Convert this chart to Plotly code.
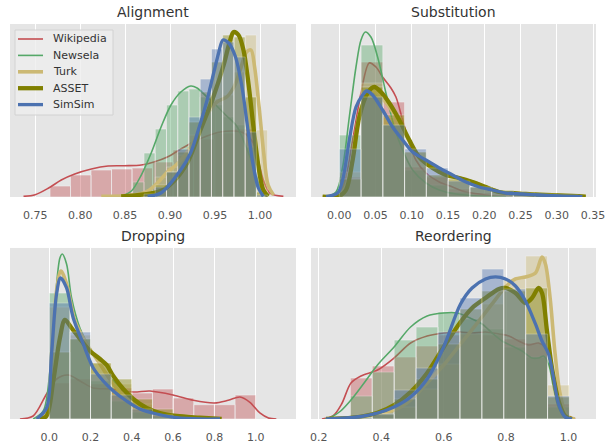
import plotly.graph_objects as go

SERIES = ["Wikipedia", "Newsela", "Turk", "ASSET", "SimSim"]
TITLES = ["Alignment", "Substitution", "Dropping", "Reordering"]

# ---------------- Alignment ----------------
align_ticks = [0.75, 0.80, 0.85, 0.90, 0.95, 1.00]
align_wiki_bin_start, align_wiki_bin_width = 0.7665, 0.0228
align_bin_start, align_bin_width = 0.8585, 0.0125
align_wiki_hist = [11, 22, 27, 28, 29, 35, 47, 58, 64, 68]
align_news_hist = [15, 44, 68, 92, 106, 108, 100, 92, 80, 72, 50, 0]
align_turk_hist = [1, 6, 20, 30, 42, 62, 85, 98, 102, 125, 162, 67]
align_asset_hist = [0, 4, 12, 25, 45, 75, 105, 135, 162, 160, 100, 5]
align_sim_hist = [0, 3, 10, 25, 48, 80, 118, 148, 155, 140, 65, 2]

align_wiki_kx = [0.737, 0.750, 0.765, 0.779, 0.794, 0.8125, 0.831, 0.849, 0.868, 0.882, 0.897,
                 0.912, 0.926, 0.941, 0.956, 0.971, 0.982, 0.9926, 0.998, 1.0037, 1.011, 1.026]
align_wiki_ky = [0.7, 2.3, 9, 17, 23, 28, 31, 31.3, 32, 35, 40, 48, 55, 61, 65, 66, 64, 54, 37, 17, 4, 0.7]
align_news_kx = [0.8456, 0.857, 0.868, 0.879, 0.890, 0.901, 0.912, 0.923, 0.930, 0.941, 0.952,
                 0.963, 0.974, 0.985, 0.993, 1.000, 1.007]
align_news_ky = [0.7, 6, 22, 44, 70, 92, 105, 111, 109, 100, 91, 81, 71, 49, 30, 10, 1]
align_turk_kx = [0.8235, 0.860, 0.875, 0.886, 0.897, 0.908, 0.919, 0.930, 0.941, 0.952, 0.963,
                 0.971, 0.978, 0.985, 0.990, 0.994, 0.999, 1.004, 1.009, 1.015]
align_turk_ky = [0.7, 2, 6, 14, 25, 33, 45, 62, 82, 95, 100, 110, 127, 145, 147, 130, 90, 45, 12, 2]
align_asset_kx = [0.8456, 0.8897, 0.9044, 0.9191, 0.9338, 0.9485, 0.9596, 0.9669, 0.9706, 0.9761,
                  0.9816, 0.9871, 0.9926, 0.9982, 1.0037, 1.0092]
align_asset_ky = [0.7, 6, 16, 34, 67, 101, 132, 157, 165, 162, 147, 114, 71, 31, 7, 0.7]
align_sim_kx = [0.875, 0.8897, 0.9118, 0.9228, 0.9338, 0.9412, 0.9485, 0.954, 0.9588, 0.9651,
                0.9724, 0.9798, 0.9871, 0.9926, 0.9982, 1.0037]
align_sim_ky = [0.7, 4, 27, 44, 74, 97, 124, 144, 157, 154, 141, 111, 64, 31, 9, 0.7]

# ---------------- Substitution ----------------
subs_ticks = [0.00, 0.05, 0.10, 0.15, 0.20, 0.25, 0.30, 0.35]
subs_bin_start, subs_bin_width = 0.0, 0.03
subs_wiki_hist = [20, 135, 95, 30, 20, 8, 4, 2, 1, 0, 0]
subs_news_hist = [62, 152, 72, 27, 12, 5, 2, 1, 0.5, 0, 0]
subs_turk_hist = [25, 114, 80, 45, 22, 18, 10, 6, 4, 2, 1]
subs_asset_hist = [18, 110, 82, 45, 22, 18, 10, 6, 4, 2, 1]
subs_sim_hist = [48, 100, 72, 48, 29, 16, 10, 6, 4, 3, 2]

subs_wiki_kx = [-0.0092, 0.0046, 0.0184, 0.0299, 0.0413, 0.0505, 0.0597, 0.0712, 0.0781, 0.0873,
                0.0965, 0.1056, 0.1194, 0.1378, 0.1562, 0.1746, 0.1929, 0.2113, 0.2297]
subs_wiki_ky = [0.3, 10, 57, 104, 134, 130, 120, 109, 100, 77, 54, 37, 24, 15, 10, 5, 3, 1, 0.3]
subs_news_kx = [-0.0184, -0.0046, 0.0046, 0.0138, 0.0230, 0.0299, 0.0358, 0.0436, 0.0528, 0.0643,
                0.0758, 0.0873, 0.1011, 0.1194, 0.1378, 0.1608, 0.1929, 0.2297]
subs_news_ky = [0.3, 5, 30, 80, 130, 157, 165, 160, 140, 104, 70, 47, 27, 14, 7, 3, 1, 0.3]
subs_turk_kx = [-0.0230, 0.0, 0.0092, 0.0184, 0.0276, 0.0390, 0.0482, 0.0574, 0.0689, 0.0827, 0.0965,
                0.1102, 0.1286, 0.1470, 0.1654, 0.1837, 0.2021, 0.2205, 0.2389, 0.2572, 0.2848, 0.3215, 0.3399]
subs_turk_ky = [0.3, 1, 8, 40, 82, 103, 106, 100, 90, 75, 56, 40, 30, 23, 19, 15, 10, 5, 4, 3, 2, 1, 0.3]
subs_asset_kx = [-0.0230, 0.0, 0.0092, 0.0184, 0.0276, 0.0390, 0.0482, 0.0574, 0.0689, 0.0827, 0.0965,
                 0.1102, 0.1286, 0.1470, 0.1654, 0.1837, 0.2021, 0.2205, 0.2389, 0.2572, 0.2848, 0.3215, 0.3399]
subs_asset_ky = [0.3, 1, 7, 37, 80, 104, 110, 105, 94, 77, 57, 40, 29, 22, 19, 15, 10, 5, 4, 3, 2, 1, 0.3]
subs_sim_kx = [-0.0184, -0.0023, 0.0046, 0.0138, 0.0230, 0.0322, 0.0377, 0.0459, 0.0597, 0.0735, 0.0873,
               0.1011, 0.1194, 0.1378, 0.1562, 0.1746, 0.1929, 0.2113, 0.2297, 0.2526, 0.2756, 0.3032, 0.3353]
subs_sim_ky = [0.3, 4, 17, 57, 90, 102, 106, 102, 87, 70, 57, 45, 37, 29, 22, 15, 10, 7, 4, 3, 2, 1, 0.3]

# ---------------- Dropping ----------------
drop_ticks = [0.0, 0.2, 0.4, 0.6, 0.8, 1.0]
drop_bin_start, drop_bin_width = 0.0, 0.1
drop_wiki_hist = [36, 40, 35, 31, 26, 30, 21, 14.3, 14.3, 24]
drop_news_hist = [126, 80, 38, 18, 7, 2, 0.5, 0, 0, 0]
drop_turk_hist = [112, 84, 56, 35, 15, 6, 2, 0.5, 0, 0]
drop_asset_hist = [67, 80, 56, 40, 20, 10, 4, 1, 0, 0]
drop_sim_hist = [116, 87, 45, 24, 10, 4, 1, 0, 0, 0]

drop_wiki_kx = [-0.142, -0.078, -0.013, 0.036, 0.092, 0.149, 0.213, 0.294, 0.407, 0.488, 0.60,
                0.698, 0.80, 0.867, 0.924, 0.972, 1.02, 1.062, 1.10]
drop_wiki_ky = [0, 3, 25, 40, 44, 38, 31, 30, 27, 28, 24, 18.7, 16, 18.7, 22, 16.7, 6, 1, 0]
drop_news_kx = [-0.0775, -0.0291, 0.0032, 0.0275, 0.0517, 0.0630, 0.0840, 0.1082, 0.1486, 0.1971,
                0.2456, 0.3102, 0.3748, 0.4394, 0.5040, 0.5687, 0.6656]
drop_news_ky = [0, 8, 48, 115, 161, 165, 155, 121, 91, 71, 55, 38, 25, 15, 8, 3, 0]
drop_turk_kx = [-0.0614, -0.0129, 0.0113, 0.0355, 0.0565, 0.0840, 0.1244, 0.1809, 0.2456, 0.3102,
                0.3748, 0.4394, 0.5202, 0.6010, 0.7302]
drop_turk_ky = [0, 9, 62, 128, 148, 135, 98, 75, 55, 35, 21, 13, 6, 2, 0]
drop_asset_kx = [-0.0452, -0.0129, 0.0194, 0.0517, 0.0759, 0.1082, 0.1567, 0.1971, 0.2456, 0.2779,
                 0.3102, 0.3586, 0.4071, 0.4717, 0.5363, 0.6171, 0.7302, 0.8352]
drop_asset_ky = [0, 3, 38, 81, 99, 91, 78, 68, 60, 54, 43, 30, 20, 11, 6, 3, 1.3, 0]
drop_sim_kx = [-0.0614, -0.0129, 0.0113, 0.0355, 0.0549, 0.0840, 0.1163, 0.1648, 0.2132, 0.2617,
               0.3102, 0.3748, 0.4394, 0.5202, 0.6171, 0.7302, 0.8271]
drop_sim_ky = [0, 11, 65, 125, 141, 131, 101, 75, 51, 38, 28, 18, 10, 5, 1.3, 0, 0]

# ---------------- Reordering ----------------
reord_ticks = [0.2, 0.4, 0.6, 0.8, 1.0]
reord_bin_start, reord_bin_width = 0.301, 0.0702
reord_wiki_hist = [41, 53, 62, 73, 84, 86, 84, 80, 76, 15]
reord_news_hist = [23, 47, 79, 92, 107, 100, 90, 72, 62, 12]
reord_turk_hist = [1, 4, 12, 30, 55, 85, 115, 140, 163, 34]
reord_asset_hist = [1, 5, 20, 40, 75, 110, 128, 128, 131, 22]
reord_sim_hist = [1, 5, 29, 51, 87, 121, 150, 130, 85, 23]

reord_wiki_kx = [0.21, 0.245, 0.273, 0.303, 0.335, 0.388, 0.441, 0.494, 0.547, 0.60, 0.654, 0.691,
                 0.734, 0.777, 0.809, 0.840, 0.872, 0.904, 0.926, 0.947, 0.968, 0.989, 1.021]
reord_wiki_ky = [0, 3, 15, 36, 43, 49, 61, 76, 83, 86, 87, 86, 87, 85, 83, 78, 74, 76, 71, 51, 25, 6, 0]
reord_news_kx = [0.22, 0.24, 0.27, 0.303, 0.345, 0.388, 0.441, 0.494, 0.547, 0.60, 0.643, 0.691,
                 0.723, 0.755, 0.787, 0.819, 0.851, 0.883, 0.904, 0.92, 0.936, 0.952, 0.968, 0.989, 1.011]
reord_news_ky = [0, 2, 8, 19, 36, 54, 72, 92, 103, 106, 106, 100, 95, 86, 78, 73, 68, 61, 61, 63, 55,
                 31, 11, 1.3, 0]
reord_turk_kx = [0.223, 0.319, 0.383, 0.441, 0.494, 0.547, 0.60, 0.654, 0.713, 0.755, 0.798, 0.830,
                 0.862, 0.894, 0.915, 0.926, 0.941, 0.957, 0.973, 0.995, 1.021]
reord_turk_ky = [0, 1.3, 5, 9, 19, 36, 54, 75, 98, 115, 132, 140, 142, 146, 162, 155, 121, 65, 25, 3, 0]
reord_asset_kx = [0.223, 0.309, 0.388, 0.441, 0.494, 0.547, 0.60, 0.654, 0.691, 0.734, 0.777, 0.798,
                  0.830, 0.862, 0.883, 0.904, 0.915, 0.931, 0.947, 0.968, 0.989, 1.011]
reord_asset_ky = [0, 1.3, 6.3, 14, 27, 46, 72, 97, 111, 121, 130, 131, 126, 116, 121, 131, 126, 88,
                  51, 18, 3, 0]
reord_sim_kx = [0.2234, 0.298, 0.335, 0.388, 0.441, 0.494, 0.547, 0.60, 0.654, 0.691, 0.734, 0.766,
                0.798, 0.830, 0.862, 0.894, 0.915, 0.936, 0.952, 0.968, 0.989, 1.011]
reord_sim_ky = [0, 1.3, 2.5, 6, 12, 22, 40, 72, 115, 131, 140, 142, 140, 133, 118, 95, 78, 65, 41,
                15, 2, 0]

# ---------------- assemble ----------------
COLORS = {"Wikipedia": "#C44E52", "Newsela": "#55A868", "Turk": "#CCB974",
          "ASSET": "#808000", "SimSim": "#4C72B0"}
LW = {"Wikipedia": 1.6, "Newsela": 1.6, "Turk": 3.6, "ASSET": 4.3, "SimSim": 3.3}

panels = [
    {
        "ticks": align_ticks, "fmt": ".2f", "range": [0.722, 1.040], "ymax": 173,
        "bins": {"Wikipedia": (align_wiki_bin_start, align_wiki_bin_width),
                 "Newsela": (align_bin_start, align_bin_width),
                 "Turk": (align_bin_start, align_bin_width),
                 "ASSET": (align_bin_start, align_bin_width),
                 "SimSim": (align_bin_start, align_bin_width)},
        "hist": [align_wiki_hist, align_news_hist, align_turk_hist, align_asset_hist, align_sim_hist],
        "kde": [(align_wiki_kx, align_wiki_ky), (align_news_kx, align_news_ky),
                (align_turk_kx, align_turk_ky), (align_asset_kx, align_asset_ky),
                (align_sim_kx, align_sim_ky)],
    },
    {
        "ticks": subs_ticks, "fmt": ".2f", "range": [-0.039, 0.354], "ymax": 173,
        "bins": {s: (subs_bin_start, subs_bin_width) for s in SERIES},
        "hist": [subs_wiki_hist, subs_news_hist, subs_turk_hist, subs_asset_hist, subs_sim_hist],
        "kde": [(subs_wiki_kx, subs_wiki_ky), (subs_news_kx, subs_news_ky),
                (subs_turk_kx, subs_turk_ky), (subs_asset_kx, subs_asset_ky),
                (subs_sim_kx, subs_sim_ky)],
    },
    {
        "ticks": drop_ticks, "fmt": ".1f", "range": [-0.19, 1.195], "ymax": 171,
        "bins": {s: (drop_bin_start, drop_bin_width) for s in SERIES},
        "hist": [drop_wiki_hist, drop_news_hist, drop_turk_hist, drop_asset_hist, drop_sim_hist],
        "kde": [(drop_wiki_kx, drop_wiki_ky), (drop_news_kx, drop_news_ky),
                (drop_turk_kx, drop_turk_ky), (drop_asset_kx, drop_asset_ky),
                (drop_sim_kx, drop_sim_ky)],
    },
    {
        "ticks": reord_ticks, "fmt": ".1f", "range": [0.175, 1.088], "ymax": 171,
        "bins": {s: (reord_bin_start, reord_bin_width) for s in SERIES},
        "hist": [reord_wiki_hist, reord_news_hist, reord_turk_hist, reord_asset_hist, reord_sim_hist],
        "kde": [(reord_wiki_kx, reord_wiki_ky), (reord_news_kx, reord_news_ky),
                (reord_turk_kx, reord_turk_ky), (reord_asset_kx, reord_asset_ky),
                (reord_sim_kx, reord_sim_ky)],
    },
]


def hist_path(start, width, heights):
    xs, ys = [], []
    for i, h in enumerate(heights):
        if h <= 0:
            continue
        x0 = start + i * width
        x1 = x0 + width
        xs += [x0, x0, x1, x1, x0, None]
        ys += [0, h, h, 0, 0, None]
    return xs, ys


fig = go.Figure()
FONT = "DejaVu Sans"

x_domains = [[0.0, 0.488], [0.5137, 1.0], [0.0, 0.488], [0.5137, 1.0]]
y_domains = [[0.562, 1.0], [0.562, 1.0], [0.0, 0.433], [0.0, 0.433]]

for p, panel in enumerate(panels):
    ax = "" if p == 0 else str(p + 1)
    xref, yref = "x" + ax, "y" + ax
    for s, name in enumerate(SERIES):
        start, width = panel["bins"][name]
        hx, hy = hist_path(start, width, panel["hist"][s])
        fig.add_trace(go.Scatter(
            x=hx, y=hy, mode="lines", fill="toself", fillcolor=COLORS[name],
            line=dict(color="white", width=0.6), opacity=0.4,
            xaxis=xref, yaxis=yref, showlegend=False, hoverinfo="skip"))
        kx, ky = panel["kde"][s]
        fig.add_trace(go.Scatter(
            x=kx, y=ky, mode="lines", name=name,
            line=dict(color=COLORS[name], width=LW[name], shape="spline", smoothing=0.9),
            xaxis=xref, yaxis=yref, showlegend=False))

    axis_x = dict(domain=x_domains[p], range=panel["range"], tickvals=panel["ticks"],
                  tickformat=panel["fmt"], showgrid=True, gridcolor="white", gridwidth=1.1,
                  zeroline=False, showline=False, ticks="", ticklabelstandoff=10,
                  tickfont=dict(family=FONT, size=11, color="#555555"),
                  anchor=yref, fixedrange=True, automargin=False)
    axis_y = dict(domain=y_domains[p], range=[0, panel["ymax"]], showticklabels=False,
                  showgrid=False, zeroline=False, showline=False, ticks="",
                  anchor=xref, fixedrange=True, automargin=False)
    fig.layout["xaxis" + ax] = axis_x
    fig.layout["yaxis" + ax] = axis_y

    fig.add_annotation(text=TITLES[p], xref=xref + " domain", yref=yref + " domain",
                       x=0.5, y=1.0, yanchor="bottom", yshift=2, showarrow=False,
                       font=dict(family=FONT, size=14, color="#333333"))

# ---- legend (drawn in the Alignment panel, upper left) ----
PLOT_W, PLOT_H = 586, 395   # plot-area size in px (paper units)


def px_x(px):
    return px / PLOT_W


def px_y(px):
    return 1 - px / PLOT_H


fig.add_shape(type="rect", xref="paper", yref="paper",
              x0=px_x(5), x1=px_x(103), y0=px_y(91), y1=px_y(6),
              fillcolor="rgba(238,238,238,0.8)", line=dict(color="#D2D2D2", width=1),
              layer="above")
for i, name in enumerate(SERIES):
    yy = px_y(15 + i * 16.4)
    fig.add_shape(type="line", xref="paper", yref="paper",
                  x0=px_x(8), x1=px_x(33), y0=yy, y1=yy,
                  line=dict(color=COLORS[name], width=LW[name]), layer="above")
    fig.add_annotation(text=name, xref="paper", yref="paper", x=px_x(41), y=yy,
                       xanchor="left", yanchor="middle", showarrow=False,
                       font=dict(family=FONT, size=11, color="#333333"))

fig.update_layout(
    width=612, height=443,
    margin=dict(l=10, r=16, t=24, b=24, autoexpand=False),
    paper_bgcolor="white", plot_bgcolor="#E5E5E5",
    font=dict(family=FONT, size=11, color="#333333"),
    showlegend=False,
)

# remove the default 8px page margin so the 612x443 figure fills the window exactly
fig.write_html("out.html", config={"displayModeBar": False},
               post_script="document.body.style.margin='0px';")
